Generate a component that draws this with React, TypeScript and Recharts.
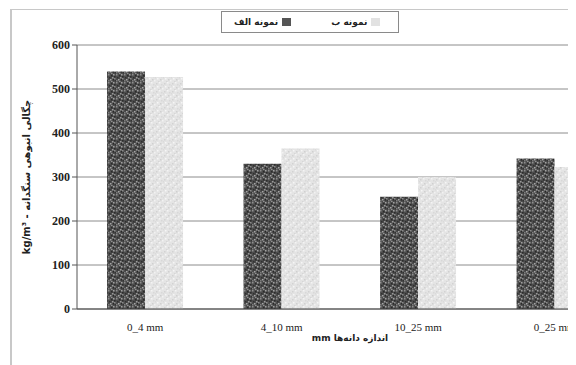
import React from "react";
import { BarChart, Bar, XAxis, YAxis, CartesianGrid } from "recharts";

const categories = ["0_4 mm", "4_10 mm", "10_25 mm", "0_25 mm"];
const sampleA = [540, 330, 255, 342];
const sampleB = [527, 365, 300, 323];
const yTicks = [0, 100, 200, 300, 400, 500, 600];
const seriesNames = ["نمونه الف", "نمونه ب"];
const xAxisTitle = "mm اندازه دانه‌ها";
const yAxisTitle = "kg/m³ - چگالی انبوهی سنگدانه";

const data = categories.map((c, i) => ({ name: c, a: sampleA[i], b: sampleB[i] }));

const serif = "'Liberation Serif', 'Times New Roman', serif";
const arabic = "'DejaVu Sans', 'Noto Sans', sans-serif";

const darkSpecks = [
  [0, 0, "#8e8e8e"], [3, 1, "#2a2a2a"], [5, 0, "#a0a0a0"], [1, 3, "#303030"],
  [4, 3, "#9a9a9a"], [6, 2, "#2c2c2c"], [2, 5, "#a5a5a5"], [5, 5, "#262626"],
  [0, 6, "#7d7d7d"], [3, 7, "#919191"], [7, 6, "#333333"], [6, 4, "#8a8a8a"],
];
const lightSpecks = [
  [0, 1, "#d2d2d2"], [3, 0, "#f4f4f4"], [5, 2, "#d8d8d8"], [1, 4, "#f6f6f6"],
  [4, 5, "#d0d0d0"], [6, 6, "#f2f2f2"], [2, 7, "#d6d6d6"], [7, 3, "#dadada"],
];

const LegendBox = () => (
  <div
    style={{
      position: "absolute",
      top: 1,
      left: 209,
      width: 178,
      border: "1px solid #8a8a8a",
      height: 22,
      display: "flex",
      alignItems: "center",
      boxSizing: "border-box",
      fontFamily: arabic,
      fontSize: 9,
      fontWeight: "bold",
      color: "#222",
      zIndex: 2,
      background: "#fff",
    }}
  >
    <span style={{ marginLeft: 12 }}>{seriesNames[0]}</span>
    <span style={{ display: "inline-block", width: 9, height: 8, marginLeft: 4, background: "#555" }} />
    <span style={{ marginLeft: 40 }}>{seriesNames[1]}</span>
    <span style={{ display: "inline-block", width: 9, height: 8, marginLeft: 4, background: "#e2e2e2" }} />
  </div>
);

export default function App() {
  return (
    <div
      style={{
        marginLeft: 2,
        marginTop: 1,
        width: 563,
        height: 356,
        overflow: "hidden",
        position: "relative",
        borderTop: "1px solid #c8c8c8",
        borderLeft: "2px solid #c8c8c8",
        borderRight: "2px solid #b0b0b0",
        boxSizing: "border-box",
        background: "#fff",
      }}
    >
      <LegendBox />
      <BarChart
        width={620}
        height={355}
        data={data}
        margin={{ top: 35, right: 9, left: 0, bottom: 16 }}
        barCategoryGap="22%"
        barGap={0}
      >
        <defs>
          <pattern id="darkTex" width="8" height="8" patternUnits="userSpaceOnUse">
            <rect x="0" y="0" width="8" height="8" fill="#4c4c4c" />
            {darkSpecks.map((s, i) => (
              <rect key={i} x={s[0] as number} y={s[1] as number} width="1.5" height="1.5" fill={s[2] as string} />
            ))}
          </pattern>
          <pattern id="lightTex" width="8" height="8" patternUnits="userSpaceOnUse">
            <rect x="0" y="0" width="8" height="8" fill="#e4e4e4" />
            {lightSpecks.map((s, i) => (
              <rect key={i} x={s[0] as number} y={s[1] as number} width="1.5" height="1.5" fill={s[2] as string} />
            ))}
          </pattern>
        </defs>
        <CartesianGrid vertical={false} stroke="#8c8c8c" strokeWidth={1} />
        <XAxis
          dataKey="name"
          tickLine={false}
          axisLine={{ stroke: "#444" }}
          tick={{ fontFamily: serif, fontSize: 11, fill: "#222" }}
          tickMargin={8}
          height={40}
          label={{
            value: xAxisTitle,
            position: "insideBottom",
            offset: 8,
            style: { fontFamily: arabic, fontSize: 9, fontWeight: "bold", fill: "#222" },
          }}
        />
        <YAxis
          domain={[0, 600]}
          ticks={yTicks}
          width={65}
          tickSize={5}
          axisLine={{ stroke: "#555" }}
          tickLine={{ stroke: "#555" }}
          tick={{ fontFamily: serif, fontSize: 12, fontWeight: "bold", fill: "#222" }}
          label={{
            value: yAxisTitle,
            angle: -90,
            position: "insideLeft",
            offset: 14,
            style: { fontFamily: arabic, fontSize: 10, fontWeight: "bold", fill: "#222", textAnchor: "middle" },
          }}
        />
        <Bar dataKey="a" name={seriesNames[0]} fill="url(#darkTex)" isAnimationActive={false} />
        <Bar dataKey="b" name={seriesNames[1]} fill="url(#lightTex)" isAnimationActive={false} />
      </BarChart>
    </div>
  );
}
